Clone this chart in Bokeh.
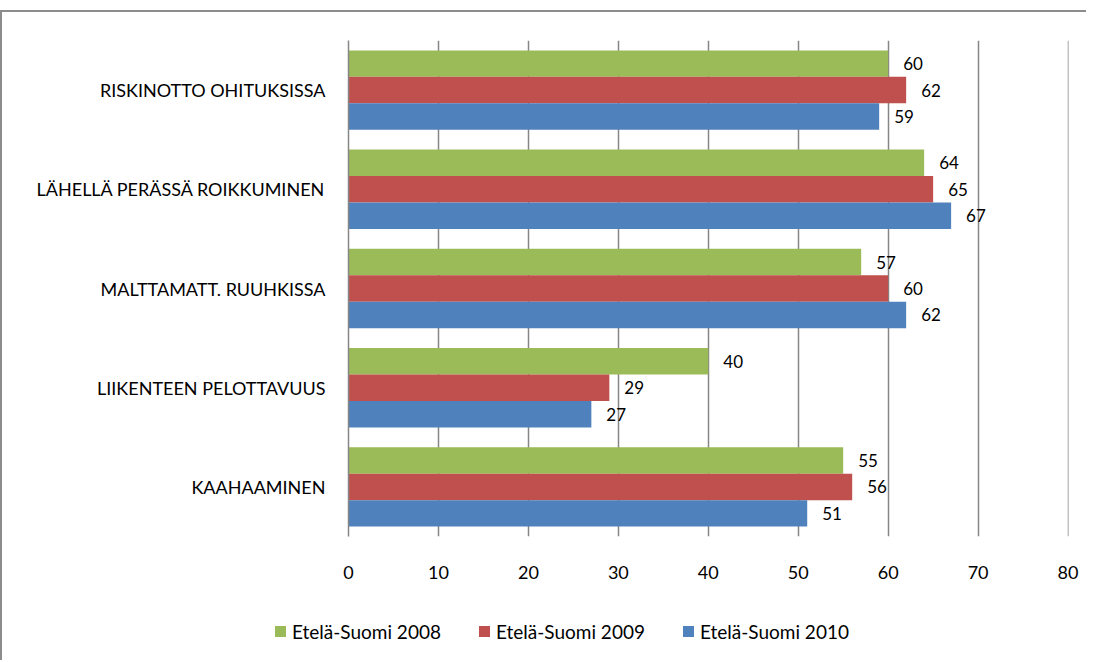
from bokeh.plotting import figure
from bokeh.models import ColumnDataSource, FixedTicker, Div, Spacer
from bokeh.transform import dodge
from bokeh.layouts import column
from bokeh.core.properties import value
from bokeh.embed import file_html
from bokeh.resources import INLINE

categories = ["RISKINOTTO OHITUKSISSA", "LÄHELLÄ PERÄSSÄ ROIKKUMINEN",
              "MALTTAMATT. RUUHKISSA", "LIIKENTEEN PELOTTAVUUS", "KAAHAAMINEN"]
series_names = ["Etelä-Suomi 2008", "Etelä-Suomi 2009", "Etelä-Suomi 2010"]
v2008 = [60, 64, 57, 40, 55]
v2009 = [62, 65, 60, 29, 56]
v2010 = [59, 67, 62, 27, 51]
x_ticks = [0, 10, 20, 30, 40, 50, 60, 70, 80]

colors = ["#9BBB59", "#C0504D", "#4F81BD"]
FONT = "Lato"
BORDER = "2px solid #8c8c8c"

src = ColumnDataSource(dict(cat=categories, v2008=v2008, v2009=v2009, v2010=v2010,
                            t2008=[str(v) for v in v2008],
                            t2009=[str(v) for v in v2009],
                            t2010=[str(v) for v in v2010]))

p = figure(width=1086, height=590, y_range=list(reversed(categories)),
           x_range=(0, 80.05), output_backend="svg", toolbar_location=None,
           min_border_left=346, min_border_right=20, min_border_top=28,
           min_border_bottom=66)
p.y_range.range_padding = 0
p.outline_line_color = None
p.styles = {"border-left": BORDER, "border-top": BORDER}

bh = 0.8 / 3
offsets = [bh, 0.0, -bh]
cols = ["v2008", "v2009", "v2010"]
tcols = ["t2008", "t2009", "t2010"]
for col, tcol, off, c in zip(cols, tcols, offsets, colors):
    p.hbar(y=dodge("cat", off, range=p.y_range), right=col, left=0, height=bh,
           source=src, fill_color=c, line_color=None)
    p.text(x=col, y=dodge("cat", off, range=p.y_range), text=tcol, source=src,
           x_offset=15, text_align="left", text_baseline="middle",
           text_font=value(FONT), text_font_size="17px", text_color="#000000")

p.xaxis.ticker = FixedTicker(ticks=x_ticks)
p.xaxis.axis_line_color = None
p.xaxis.major_tick_line_color = None
p.xaxis.minor_tick_line_color = None
p.xaxis.major_label_standoff = 23
p.xaxis.major_label_text_font = FONT
p.xaxis.major_label_text_font_size = "18px"
p.xaxis.major_label_text_color = "#000000"

p.yaxis.axis_line_color = "#868686"
p.yaxis.axis_line_width = 1.5
p.yaxis.major_tick_line_color = None
p.yaxis.minor_tick_line_color = None
p.yaxis.major_label_standoff = 17
p.yaxis.major_label_text_font = FONT
p.yaxis.major_label_text_font_size = "18px"
p.yaxis.major_label_text_color = "#000000"

p.xgrid.grid_line_color = "#868686"
p.xgrid.grid_line_width = 1.5
p.ygrid.grid_line_color = None

# legend strip below the chart (real text)
parts = []
for i, (name, c) in enumerate(zip(series_names, colors)):
    x0 = 273 + 204 * i
    parts.append(f'<span style="position:absolute;left:{x0}px;top:26px;width:11px;height:11px;'
                 f'background:{c};"></span>')
    parts.append(f'<span style="position:absolute;left:{x0 + 17}px;top:21px;line-height:22px;'
                 f'white-space:nowrap;">{name}</span>')
html = ('<div style="position:relative;width:1084px;height:60px;font-family:Lato;'
        'font-size:19px;color:#000000;">' + "".join(parts) + '</div>')
leg = Div(text=html, width=1086, height=60, margin=0, styles={"border-left": BORDER})

page = column(Spacer(width=1, height=10, margin=0), p, leg, spacing=0)
open("out.html", "w").write(file_html(page, INLINE))
